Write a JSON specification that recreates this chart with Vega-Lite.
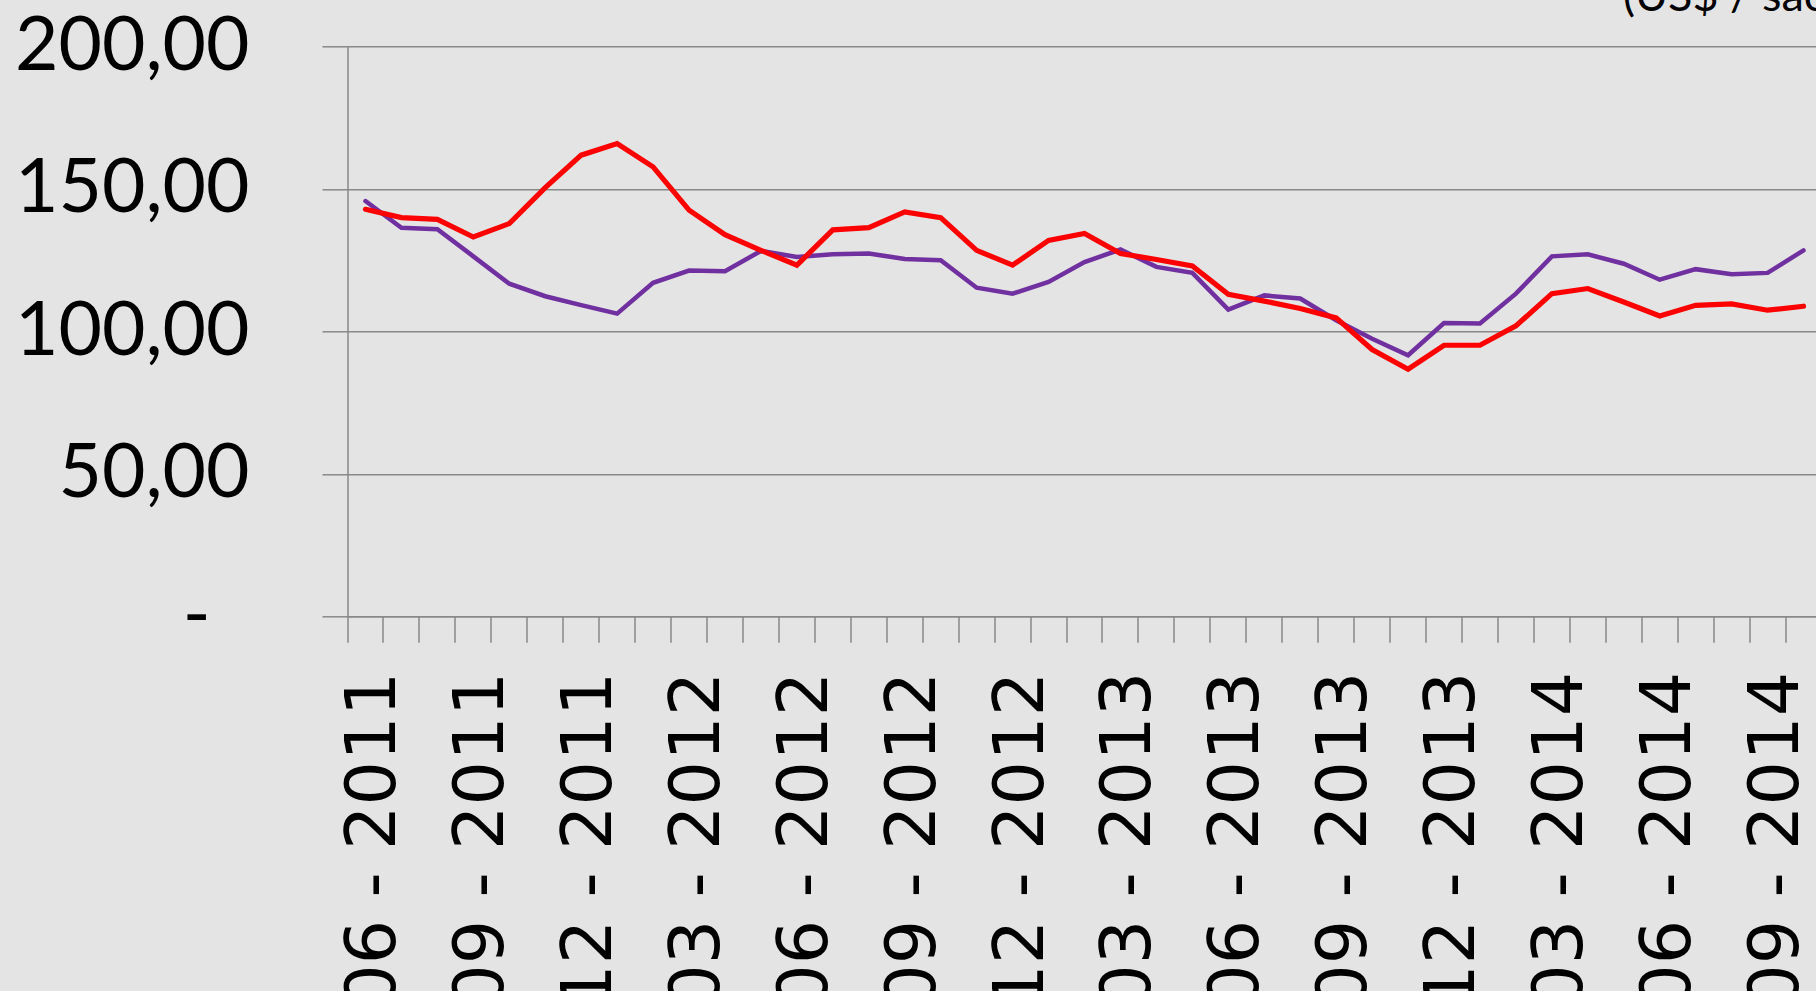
{
  "$schema": "https://vega.github.io/schema/vega-lite/v6.json",
  "width": 1474,
  "height": 570,
  "autosize": {"type": "none"},
  "padding": {"left": 347.5, "top": 46.3, "right": 0, "bottom": 375},
  "background": "#e4e4e4",
  "config": {"view": {"stroke": null}},
  "data": {"values": [
    {"mes": "06 - 2011", "serie": "Série 1", "valor": 145.7}, {"mes": "06 - 2011", "serie": "Série 2", "valor": 142.8},
    {"mes": "07 - 2011", "serie": "Série 1", "valor": 136.3}, {"mes": "07 - 2011", "serie": "Série 2", "valor": 139.9},
    {"mes": "08 - 2011", "serie": "Série 1", "valor": 135.8}, {"mes": "08 - 2011", "serie": "Série 2", "valor": 139.3},
    {"mes": "09 - 2011", "serie": "Série 1", "valor": 126.3}, {"mes": "09 - 2011", "serie": "Série 2", "valor": 133.1},
    {"mes": "10 - 2011", "serie": "Série 1", "valor": 116.7}, {"mes": "10 - 2011", "serie": "Série 2", "valor": 137.8},
    {"mes": "11 - 2011", "serie": "Série 1", "valor": 112.3}, {"mes": "11 - 2011", "serie": "Série 2", "valor": 150.4},
    {"mes": "12 - 2011", "serie": "Série 1", "valor": 109.2}, {"mes": "12 - 2011", "serie": "Série 2", "valor": 161.8},
    {"mes": "01 - 2012", "serie": "Série 1", "valor": 106.2}, {"mes": "01 - 2012", "serie": "Série 2", "valor": 165.9},
    {"mes": "02 - 2012", "serie": "Série 1", "valor": 117.0}, {"mes": "02 - 2012", "serie": "Série 2", "valor": 157.7},
    {"mes": "03 - 2012", "serie": "Série 1", "valor": 121.3}, {"mes": "03 - 2012", "serie": "Série 2", "valor": 142.5},
    {"mes": "04 - 2012", "serie": "Série 1", "valor": 121.1}, {"mes": "04 - 2012", "serie": "Série 2", "valor": 133.9},
    {"mes": "05 - 2012", "serie": "Série 1", "valor": 128.2}, {"mes": "05 - 2012", "serie": "Série 2", "valor": 128.4},
    {"mes": "06 - 2012", "serie": "Série 1", "valor": 126.1}, {"mes": "06 - 2012", "serie": "Série 2", "valor": 123.2},
    {"mes": "07 - 2012", "serie": "Série 1", "valor": 127.0}, {"mes": "07 - 2012", "serie": "Série 2", "valor": 135.6},
    {"mes": "08 - 2012", "serie": "Série 1", "valor": 127.3}, {"mes": "08 - 2012", "serie": "Série 2", "valor": 136.4},
    {"mes": "09 - 2012", "serie": "Série 1", "valor": 125.4}, {"mes": "09 - 2012", "serie": "Série 2", "valor": 141.9},
    {"mes": "10 - 2012", "serie": "Série 1", "valor": 124.9}, {"mes": "10 - 2012", "serie": "Série 2", "valor": 139.9},
    {"mes": "11 - 2012", "serie": "Série 1", "valor": 115.3}, {"mes": "11 - 2012", "serie": "Série 2", "valor": 128.4},
    {"mes": "12 - 2012", "serie": "Série 1", "valor": 113.2}, {"mes": "12 - 2012", "serie": "Série 2", "valor": 123.2},
    {"mes": "01 - 2013", "serie": "Série 1", "valor": 117.3}, {"mes": "01 - 2013", "serie": "Série 2", "valor": 131.9},
    {"mes": "02 - 2013", "serie": "Série 1", "valor": 124.3}, {"mes": "02 - 2013", "serie": "Série 2", "valor": 134.3},
    {"mes": "03 - 2013", "serie": "Série 1", "valor": 128.7}, {"mes": "03 - 2013", "serie": "Série 2", "valor": 127.3},
    {"mes": "04 - 2013", "serie": "Série 1", "valor": 122.6}, {"mes": "04 - 2013", "serie": "Série 2", "valor": 125.2},
    {"mes": "05 - 2013", "serie": "Série 1", "valor": 120.5}, {"mes": "05 - 2013", "serie": "Série 2", "valor": 122.9},
    {"mes": "06 - 2013", "serie": "Série 1", "valor": 107.6}, {"mes": "06 - 2013", "serie": "Série 2", "valor": 113.0},
    {"mes": "07 - 2013", "serie": "Série 1", "valor": 112.6}, {"mes": "07 - 2013", "serie": "Série 2", "valor": 110.6},
    {"mes": "08 - 2013", "serie": "Série 1", "valor": 111.5}, {"mes": "08 - 2013", "serie": "Série 2", "valor": 108.0},
    {"mes": "09 - 2013", "serie": "Série 1", "valor": 103.9}, {"mes": "09 - 2013", "serie": "Série 2", "valor": 104.7},
    {"mes": "10 - 2013", "serie": "Série 1", "valor": 97.4}, {"mes": "10 - 2013", "serie": "Série 2", "valor": 93.6},
    {"mes": "11 - 2013", "serie": "Série 1", "valor": 91.6}, {"mes": "11 - 2013", "serie": "Série 2", "valor": 86.7},
    {"mes": "12 - 2013", "serie": "Série 1", "valor": 102.9}, {"mes": "12 - 2013", "serie": "Série 2", "valor": 95.1},
    {"mes": "01 - 2014", "serie": "Série 1", "valor": 102.7}, {"mes": "01 - 2014", "serie": "Série 2", "valor": 95.1},
    {"mes": "02 - 2014", "serie": "Série 1", "valor": 113.2}, {"mes": "02 - 2014", "serie": "Série 2", "valor": 101.9},
    {"mes": "03 - 2014", "serie": "Série 1", "valor": 126.3}, {"mes": "03 - 2014", "serie": "Série 2", "valor": 113.2},
    {"mes": "04 - 2014", "serie": "Série 1", "valor": 127.0}, {"mes": "04 - 2014", "serie": "Série 2", "valor": 115.0},
    {"mes": "05 - 2014", "serie": "Série 1", "valor": 123.7}, {"mes": "05 - 2014", "serie": "Série 2", "valor": 110.3},
    {"mes": "06 - 2014", "serie": "Série 1", "valor": 118.1}, {"mes": "06 - 2014", "serie": "Série 2", "valor": 105.4},
    {"mes": "07 - 2014", "serie": "Série 1", "valor": 121.8}, {"mes": "07 - 2014", "serie": "Série 2", "valor": 109.1},
    {"mes": "08 - 2014", "serie": "Série 1", "valor": 120.0}, {"mes": "08 - 2014", "serie": "Série 2", "valor": 109.6},
    {"mes": "09 - 2014", "serie": "Série 1", "valor": 120.5}, {"mes": "09 - 2014", "serie": "Série 2", "valor": 107.4},
    {"mes": "10 - 2014", "serie": "Série 1", "valor": 128.4}, {"mes": "10 - 2014", "serie": "Série 2", "valor": 108.8}
  ]},
  "encoding": {
    "x": {
      "field": "mes", "type": "ordinal", "sort": null, "bandPosition": 0.5,
      "scale": {"type": "band", "paddingInner": 0, "paddingOuter": 0},
      "axis": {
        "title": null, "bandPosition": 0, "labelOffset": 9, "labelAngle": -90, "labelAlign": "right", "labelBaseline": "middle",
        "labelFont": "DejaVu Sans", "labelFontSize": 70, "labelColor": "#000000", "labelPadding": 29, "labelLimit": 0,
        "tickSize": 26, "tickColor": "#888888", "tickWidth": 1.5, "domainColor": "#888888", "domainWidth": 1.5,
        "grid": false, "labelOverlap": false, "labelBound": false, "labelFlush": false,
        "labelExpr": "toNumber(substring(datum.label, 0, 2)) % 3 == 0 ? datum.label : ''"
      }
    },
    "y": {
      "field": "valor", "type": "quantitative",
      "scale": {"domain": [0, 200], "nice": false, "zero": true},
      "axis": {
        "title": "(US$ / saca)", "titleAngle": 0, "titleAlign": "left", "titleBaseline": "alphabetic",
        "titleX": 1275, "titleY": -36, "titleFont": "Lato", "titleFontSize": 45, "titleFontWeight": "normal",
        "titleColor": "#000000", "titleLimit": 0,
        "values": [0, 50, 100, 150, 200], "tickSize": 25.5, "labelLimit": 0,
        "labelPadding": {"condition": {"test": "datum.value == 0", "value": 112}, "value": 73},
        "labelFont": "Lato", "labelFontSize": 75, "labelColor": "#000000",
        "grid": true, "gridColor": "#888888", "gridWidth": 1.5, "tickColor": "#888888", "tickWidth": 1.5,
        "domainColor": "#888888", "domainWidth": 1.5,
        "labelExpr": "datum.value == 0 ? '-' : replace(format(datum.value, '.2f'), '.', ',')"
      }
    }
  },
  "layer": [
    {"transform": [{"filter": "datum.serie == 'Série 1'"}], "mark": {"type": "line", "color": "#7030A0", "strokeWidth": 4.5, "strokeCap": "round"}},
    {"transform": [{"filter": "datum.serie == 'Série 2'"}], "mark": {"type": "line", "color": "#FF0000", "strokeWidth": 5.2, "strokeCap": "round"}}
  ]
}
